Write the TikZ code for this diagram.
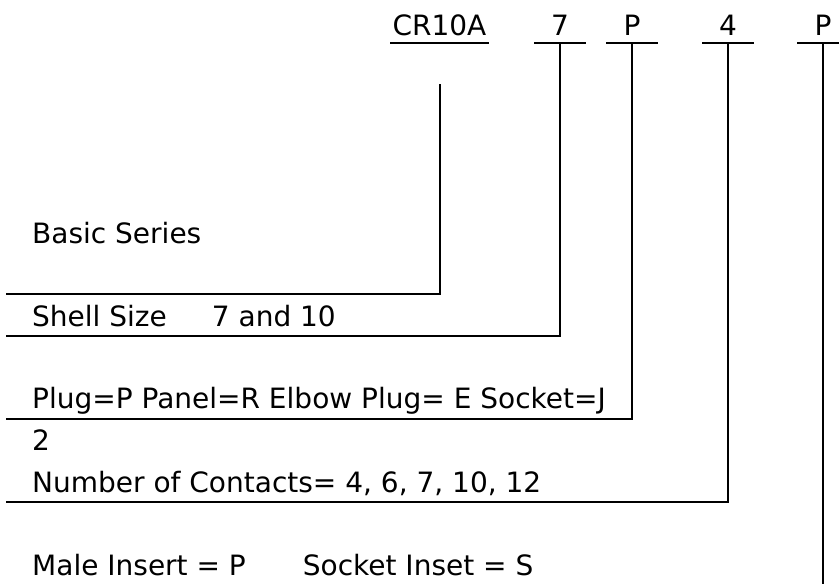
\documentclass[tikz,border=0pt]{standalone}
\usepackage{fontspec}
\setmainfont{DejaVu Sans}
\begin{document}
\begin{tikzpicture}[x=1pt,y=-1pt,
  every node/.style={font=\fontsize{28}{32}\selectfont, inner sep=0pt, text height=20.4pt, text depth=8pt, anchor=base},
  code/.style={minimum width=49pt},
  desc/.style={anchor=base west},
  ln/.style={line width=2pt, line cap=rect}]
\useasboundingbox (0,0) rectangle (839,584);
% top code
\node[code, minimum width=97pt] (cr) at (439.5,35) {CR10A};
\node[code] (c7) at (560,35) {7};
\node[code] (cp) at (632,35) {P};
\node[code] (c4) at (728,35) {4};
\node[code] (cs) at (823,35) {P};
\foreach \n in {cr,c7,cp,c4,cs} \draw[ln] (\n.south west) -- (\n.south east);
% descriptions
\node[desc] (basic) at (32,243) {Basic Series};
\node[desc] (shell) at (32,326) {Shell Size\hspace{45pt}7 and 10};
\node[desc] (plug) at (32,408) {Plug=P Panel=R Elbow Plug= E Socket=J};
\node[desc] (two) at (32,450) {2};
\node[desc] (num) at (32,492) {Number of Contacts= 4, 6, 7, 10, 12};
\node[desc] (male) at (32,575) {Male Insert = P\hspace{57pt}Socket Inset = S};
% free ends
\coordinate (crtop) at (440,85);
\coordinate (e1) at (7,293.5);
\coordinate (e2) at (7,336);
\coordinate (e3) at (7,419);
\coordinate (e4) at (7,502);
\coordinate (e5) at (823,600);
% connectors
\draw[ln] (crtop) |- (e1);
\draw[ln] (c7.south) |- (e2);
\draw[ln] (cp.south) |- (e3);
\draw[ln] (c4.south) |- (e4);
\draw[ln] (cs.south) -- (e5);
\end{tikzpicture}
\end{document}
